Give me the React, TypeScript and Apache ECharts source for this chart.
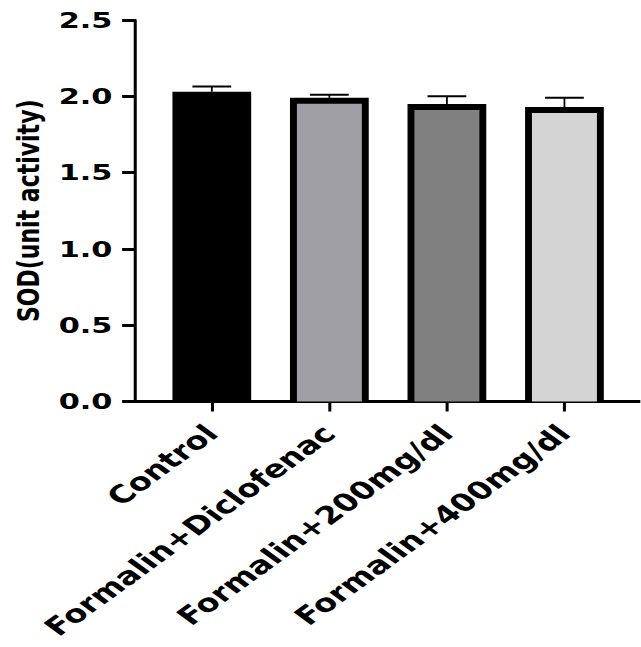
import React, { useEffect, useRef } from "react";
import * as echarts from "echarts";

// Group labels, means and error (SEM) values
const categories = [
  "Control",
  "Formalin+Diclofenac",
  "Formalin+200mg/dl",
  "Formalin+400mg/dl",
];
const sodMeans = [2.03, 1.99, 1.95, 1.93];
const sodErrors = [0.035, 0.02, 0.05, 0.06];
const barFills = ["#000000", "#a09fa5", "#808080", "#d4d4d4"];
const yTicks = [0, 0.5, 1.0, 1.5, 2.0, 2.5];

// The figure is laid out in a narrower frame and widened horizontally
const STRETCH = 1.38;
const FRAME_W = 641 / STRETCH;
const FRAME_H = 647;
const FONT = "DejaVu Sans";

export default function App() {
  const ref = useRef<HTMLDivElement>(null);

  useEffect(() => {
    if (!ref.current) return;
    const chart = echarts.init(ref.current, null, { renderer: "svg" });

    const plotTop = 20;
    const plotBottom = FRAME_H - 401.5;
    const axisX = 97.5;
    const bandLeft = 110.9;
    const bandRight = FRAME_W - 452.1;

    const data = categories.map((_, i) => [i, sodMeans[i], sodErrors[i]]);

    chart.setOption({
      animation: false,
      backgroundColor: "#ffffff",
      grid: [
        { left: axisX, right: 0, top: plotTop, bottom: plotBottom },
        { left: bandLeft, right: bandRight, top: plotTop, bottom: plotBottom },
      ],
      xAxis: [
        {
          gridIndex: 0,
          type: "value",
          min: 0,
          max: 1,
          axisLine: { show: true, lineStyle: { color: "#000", width: 3 } },
          axisTick: { show: false },
          axisLabel: { show: false },
          splitLine: { show: false },
        },
        {
          gridIndex: 1,
          type: "category",
          data: categories,
          axisLine: { show: false },
          axisTick: {
            show: true,
            alignWithLabel: true,
            length: 10,
            lineStyle: { color: "#000", width: 2.2 },
          },
          axisLabel: {
            rotate: 45,
            interval: 0,
            margin: 28,
            color: "#000",
            fontFamily: FONT,
            fontWeight: "bold",
            fontSize: 24.5,
          },
          splitLine: { show: false },
        },
      ],
      yAxis: [
        {
          gridIndex: 0,
          type: "value",
          min: yTicks[0],
          max: yTicks[yTicks.length - 1],
          interval: 0.5,
          name: "SOD(unit activity)",
          nameLocation: "middle",
          nameRotate: 90,
          nameGap: 65,
          nameTextStyle: {
            color: "#000",
            fontFamily: FONT,
            fontWeight: "bold",
            fontSize: 22,
          },
          axisLine: { show: true, lineStyle: { color: "#000", width: 2.2 } },
          axisTick: { show: true, length: 9, lineStyle: { color: "#000", width: 3 } },
          axisLabel: {
            margin: 16,
            color: "#000",
            fontFamily: FONT,
            fontWeight: "bold",
            fontSize: 22,
            formatter: (v: number) => v.toFixed(1),
          },
          splitLine: { show: false },
        },
        {
          gridIndex: 1,
          type: "value",
          min: yTicks[0],
          max: yTicks[yTicks.length - 1],
          interval: 0.5,
          show: false,
          splitLine: { show: false },
        },
      ],
      series: [
        {
          type: "custom",
          xAxisIndex: 1,
          yAxisIndex: 1,
          data,
          clip: false,
          renderItem: (params: any, api: any) => {
            const idx = api.value(0);
            const mean = api.value(1);
            const err = api.value(2);
            const base = api.coord([idx, 0]);
            const top = api.coord([idx, mean]);
            const cap = api.coord([idx, mean + err]);
            const band = api.size([1, 0])[0];
            const w = band * 0.67;
            const capW = band * 0.33;
            const side = 5;
            const topB = 6;
            const x0 = base[0] - w / 2;
            const h = base[1] - top[1];
            return {
              type: "group",
              children: [
                {
                  type: "line",
                  shape: { x1: top[0], y1: cap[1], x2: top[0], y2: top[1] },
                  style: { stroke: "#000", lineWidth: 1.3 },
                },
                {
                  type: "line",
                  shape: { x1: top[0] - capW / 2, y1: cap[1], x2: top[0] + capW / 2, y2: cap[1] },
                  style: { stroke: "#000", lineWidth: 2 },
                },
                {
                  type: "rect",
                  shape: { x: x0, y: top[1], width: w, height: h },
                  style: { fill: "#000" },
                },
                {
                  type: "rect",
                  shape: { x: x0 + side, y: top[1] + topB, width: w - 2 * side, height: h - topB },
                  style: { fill: barFills[idx] },
                },
              ],
            };
          },
        },
      ],
    });

    return () => chart.dispose();
  }, []);

  return (
    <div
      ref={ref}
      style={{
        position: "absolute",
        left: 0,
        top: 0,
        width: FRAME_W,
        height: FRAME_H,
        transform: `scaleX(${STRETCH})`,
        transformOrigin: "0 0",
      }}
    />
  );
}
